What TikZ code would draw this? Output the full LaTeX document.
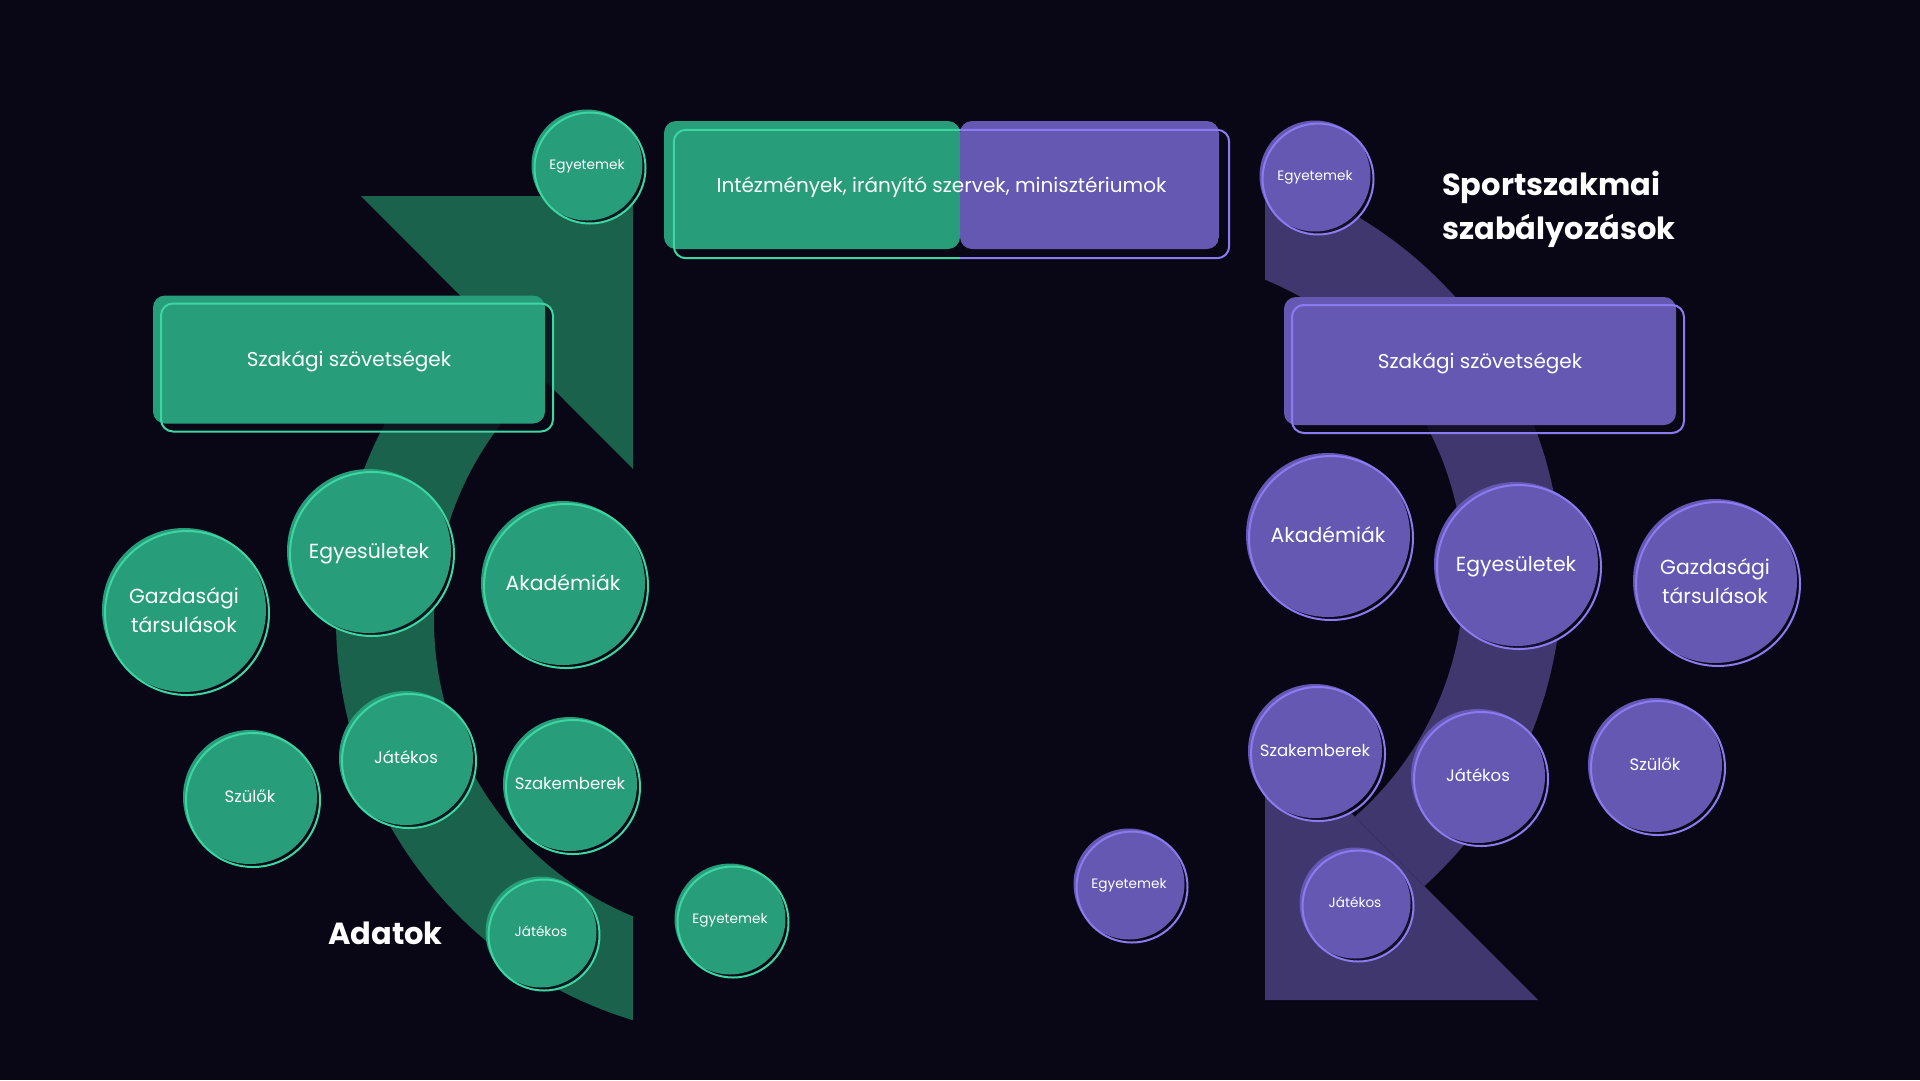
\documentclass[tikz,border=0pt]{standalone}
\usepackage{fontspec}
\setmainfont{Poppins}
\usetikzlibrary{positioning}

\definecolor{bgnight}{HTML}{090716}
\definecolor{gfill}{HTML}{279D7A}
\definecolor{gband}{HTML}{1A624B}
\definecolor{gline}{HTML}{3DD6A3}
\definecolor{pfill}{HTML}{6558B3}
\definecolor{pband}{HTML}{40376E}
\definecolor{pline}{HTML}{8A7CF0}

\begin{document}
\begin{tikzpicture}[
    x=1pt, y=-1pt,
    disc/.style={circle, inner sep=0pt, text=white, align=center,
      preaction={fill=bgnight, opacity=0.8, transform canvas={shift={(3pt,-3pt)}}}},
    twoline/.style={text height={}, text depth={}},
    gdisc/.style={disc, fill=gfill, postaction={draw=gline, line width=2pt, transform canvas={shift={(3pt,-3pt)}}}},
    pdisc/.style={disc, fill=pfill, postaction={draw=pline, line width=2pt, transform canvas={shift={(3pt,-3pt)}}}},
    big/.style={minimum size=164pt, font=\fontsize{20.4}{29}\selectfont, text height=19.5pt, text depth=5.2pt},
    mid/.style={minimum size=134pt, font=\fontsize{16.5}{20}\selectfont, text height=15.5pt, text depth=4pt},
    small/.style={minimum size=111pt, font=\fontsize{13.6}{16}\selectfont, text height=13pt, text depth=3.5pt},
    panel/.style={rectangle, rounded corners=12pt, inner sep=0pt, text=white,
      text height=17.5pt, text depth=3.5pt,
      minimum width=392pt, minimum height=128pt, font=\fontsize{20}{24}\selectfont,
      preaction={fill=bgnight, opacity=0.8, transform canvas={shift={(8pt,-8pt)}}}},
    gpanel/.style={panel, fill=gfill, postaction={draw=gline, line width=2pt, transform canvas={shift={(8pt,-8pt)}}}},
    ppanel/.style={panel, fill=pfill, postaction={draw=pline, line width=2pt, transform canvas={shift={(8pt,-8pt)}}}},
    title/.style={text=white, font=\bfseries\fontsize{30.5}{44}\selectfont, align=left, inner sep=0pt}
  ]
  \useasboundingbox (0,0) rectangle (1920,1080);
  \fill[bgnight] (0,0) rectangle (1920,1080);

  % green band with arrow head
  \begin{scope}
    \clip (633,1100) -- (633,469) -- (200,36) -- (0,36) -- (0,1100) -- cycle;
    \fill[gband, even odd rule] (754,620) circle[radius=418] (754,620) circle[radius=320];
  \end{scope}
  \fill[gband] (361,196) -- (633,196) -- (633,469) -- cycle;

  % purple band with arrow head
  \begin{scope}
    \clip (1265,60) -- (1265,727) -- (1698,1160) -- (1920,1160) -- (1920,60) -- cycle;
    \fill[pband, even odd rule] (1144,576) circle[radius=418] (1144,576) circle[radius=320];
  \end{scope}
  \fill[pband] (1265,727) -- (1265,1000) -- (1538,1000) -- cycle;

  % panels
  \node[panel, minimum width=555pt, minimum height=128pt,
    preaction={fill=bgnight, opacity=0.8, transform canvas={shift={(10pt,-9pt)}}},
    path picture={
      \fill[gfill] (path picture bounding box.south west) rectangle ([xshift=18.5pt]path picture bounding box.north);
      \fill[pfill] ([xshift=18.5pt]path picture bounding box.south) rectangle (path picture bounding box.north east);
    }] (inst) at (941.5,185) {Intézmények, irányító szervek, minisztériumok};
  \begin{scope}
    \clip (600,100) rectangle (960,320);
    \draw[gline, line width=2pt, rounded corners=12pt] ([shift={(10pt,-9pt)}]inst.north west) rectangle ([shift={(10pt,-9pt)}]inst.south east);
  \end{scope}
  \begin{scope}
    \clip (960,100) rectangle (1300,320);
    \draw[pline, line width=2pt, rounded corners=12pt] ([shift={(10pt,-9pt)}]inst.north west) rectangle ([shift={(10pt,-9pt)}]inst.south east);
  \end{scope}

  \node[gpanel] (fedL) at (349,359.5) {Szakági szövetségek};
  \node[ppanel] (fedR) at (1480,361) {Szakági szövetségek};

  % green circles
  \node[gdisc, small] (gUnivTop) at (587,165) {Egyetemek};
  \node[gdisc, big, twoline] (gEcon) at (184,610) {Gazdasági\\társulások};
  \node[gdisc, big] (gClub) at (369,551) {Egyesületek};
  \node[gdisc, big] (gAcad) at (563,583) {Akadémiák};
  \node[gdisc, mid] (gParents) at (250,797) {Szülők};
  \node[gdisc, mid] (gPlayer) at (406,758) {Játékos};
  \node[gdisc, mid] (gExperts) at (570,784) {Szakemberek};
  \node[gdisc, small] (gPlayerLow) at (541,932) {Játékos};
  \node[gdisc, small] (gUnivLow) at (730,919) {Egyetemek};

  % purple circles
  \node[pdisc, small] (pUnivTop) at (1315,176) {Egyetemek};
  \node[pdisc, big] (pAcad) at (1328,535) {Akadémiák};
  \node[pdisc, big] (pClub) at (1516,564) {Egyesületek};
  \node[pdisc, big, twoline] (pEcon) at (1715,581) {Gazdasági\\társulások};
  \node[pdisc, mid] (pExperts) at (1315,751) {Szakemberek};
  \node[pdisc, mid] (pPlayer) at (1478,776) {Játékos};
  \node[pdisc, mid] (pParents) at (1655,765) {Szülők};
  \node[pdisc, small] (pUnivLow) at (1129,884) {Egyetemek};
  \node[pdisc, small] (pPlayerLow) at (1355,903) {Játékos};

  % titles
  \node[title, anchor=west] (sport) at (1442,209) {Sportszakmai\\szabályozások};
  \node[title, anchor=base west] (adat) at (328,944) {Adatok};
\end{tikzpicture}
\end{document}
